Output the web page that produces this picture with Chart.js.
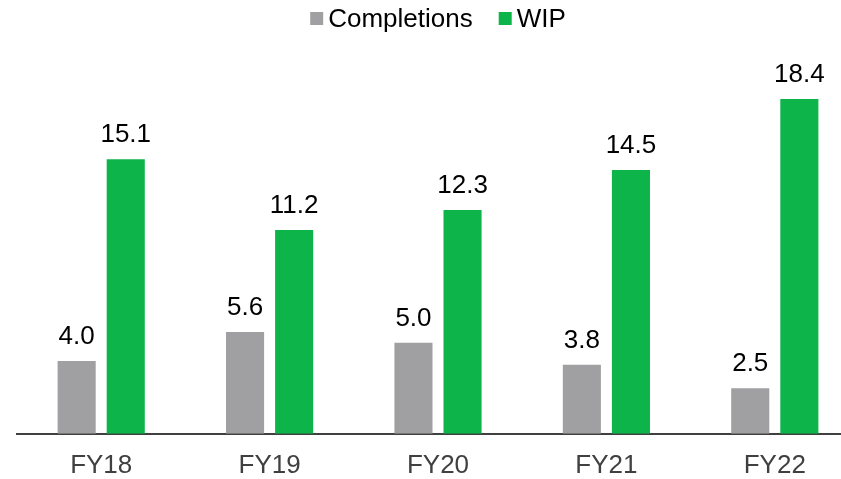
<!DOCTYPE html>
<html>
<head>
<meta charset="utf-8">
<script src="https://cdn.jsdelivr.net/npm/chart.js@4/dist/chart.umd.min.js"></script>
<style>
  html, body { margin: 0; padding: 0; background: #fff; overflow: hidden; }
  #wrap { width: 860px; height: 479px; }
</style>
</head>
<body>
<div id="wrap"><canvas id="chartFY" width="860" height="479"></canvas></div>
<script>
var years = ["FY18", "FY19", "FY20", "FY21", "FY22"];
var completions = [4.0, 5.6, 5.0, 3.8, 2.5];
var wip = [15.1, 11.2, 12.3, 14.5, 18.4];

var fontFam = '"Liberation Sans", Arial, sans-serif';

// writes the value above every bar
var barValues = {
    id: 'barValues',
    afterDatasetsDraw: function(chart){
        var ctx = chart.ctx;
        ctx.save();
        ctx.font = '26px ' + fontFam;
        ctx.fillStyle = '#000';
        ctx.textAlign = 'center';
        ctx.textBaseline = 'alphabetic';
        chart.data.datasets.forEach(function(ds, i){
            chart.getDatasetMeta(i).data.forEach(function(bar, j){
                ctx.fillText(ds.data[j].toFixed(1), bar.x, bar.y - 17);
            });
        });
        ctx.restore();
    }
};

// small legend on top, boxes tight against the text
var topLegend = {
    id: 'topLegend',
    afterDraw: function(chart){
        var ctx = chart.ctx, area = chart.chartArea;
        var box = 13, gapText = 5, gapItem = 26, cy = 18.5;
        ctx.save();
        ctx.font = '26px ' + fontFam;
        ctx.textBaseline = 'middle';
        var items = chart.data.datasets.map(function(ds){
            return {label: ds.label, color: ds.backgroundColor, w: ctx.measureText(ds.label).width};
        });
        var total = 0;
        items.forEach(function(it, i){
            total += box + gapText + it.w + (i ? gapItem : 0);
        });
        var x = (area.left + area.right) / 2 - total / 2;
        items.forEach(function(it){
            ctx.fillStyle = it.color;
            ctx.fillRect(x, cy - box / 2, box, box);
            ctx.fillStyle = '#000';
            ctx.fillText(it.label, x + box + gapText, cy + 1);
            x += box + gapText + it.w + gapItem;
        });
        ctx.restore();
    }
};

var ctx = document.getElementById("chartFY").getContext("2d");
var myBarChart = new Chart(ctx, {
    type: 'bar',
    data: {
        labels: years,
        datasets: [
            {
                label: "Completions",
                data: completions,
                backgroundColor: "#a0a0a2",
                borderWidth: 0,
                categoryPercentage: 0.583,
                barPercentage: 0.776
            },
            {
                label: "WIP",
                data: wip,
                backgroundColor: "#0cb44a",
                borderWidth: 0,
                categoryPercentage: 0.583,
                barPercentage: 0.776
            }
        ]
    },
    options: {
        responsive: false,
        animation: false,
        layout: {padding: {left: 17, right: 1, top: 70, bottom: -18}},
        plugins: {
            legend: {display: false},
            tooltip: {enabled: false}
        },
        scales: {
            x: {
                grid: {display: false, drawTicks: false},
                border: {display: true, color: '#404040', width: 2},
                ticks: {
                    color: '#404040',
                    padding: 16,
                    font: {family: fontFam, size: 26}
                }
            },
            y: {
                display: false,
                min: 0,
                max: 20
            }
        }
    },
    plugins: [barValues, topLegend]
});
</script>
</body>
</html>
